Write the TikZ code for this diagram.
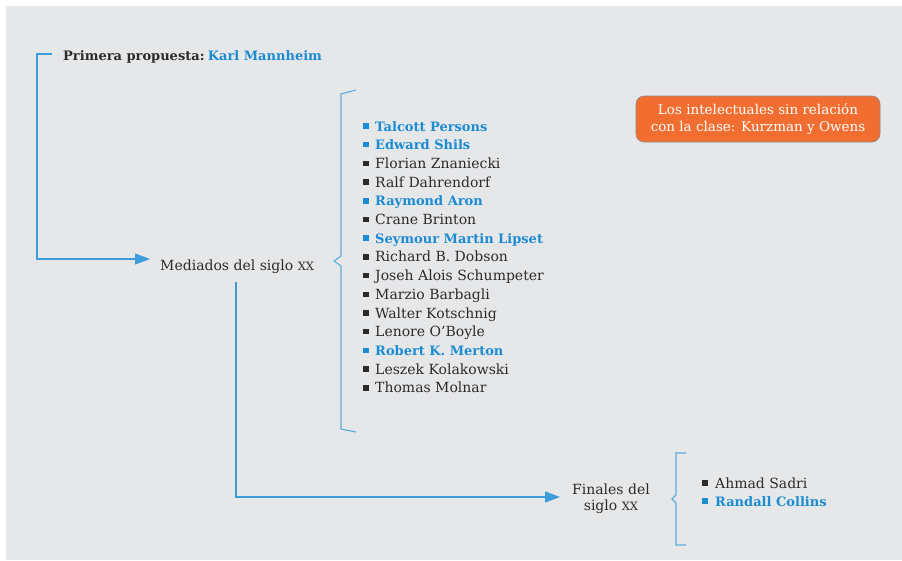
\documentclass[tikz,border=0pt]{standalone}
\usepackage{fontspec}
\setmainfont{DejaVu Serif}
\usetikzlibrary{arrows.meta}
\definecolor{bggray}{HTML}{E6E7E9}
\definecolor{linkblue}{HTML}{3D9DDB}
\definecolor{bracketblue}{HTML}{5AAEE0}
\definecolor{nameblue}{HTML}{1B8BD2}
\definecolor{ink}{HTML}{2B2B2B}
\definecolor{boxorange}{HTML}{F26E30}
\definecolor{boxedge}{HTML}{8C8C8C}
\newcommand{\smx}{{\fontsize{11.5}{12}\selectfont XX}}
\begin{document}
\begin{tikzpicture}[x=1pt,y=-1pt,
  txt/.style={inner sep=0pt, text=ink, font=\fontsize{14}{16}\selectfont},
  plainname/.style={txt, anchor=base west},
  keyname/.style={txt, anchor=base west, text=nameblue, font=\fontsize{13}{16}\selectfont\bfseries},
  link/.style={draw=linkblue, line width=1.3pt, -{Triangle[length=15pt,width=11pt]}},
  brace/.style={draw=bracketblue, line width=1.1pt, line join=miter},
  bulletsq/.style={inner sep=0pt, minimum size=5.5pt, fill=#1},
  notebox/.style={draw=boxedge, line width=0.6pt, fill=boxorange, rounded corners=8pt,
    text=white, align=center, minimum width=244pt, minimum height=46pt, inner sep=0pt,
    font=\fontsize{13.5}{17}\selectfont}]
  % page and grey panel
  \useasboundingbox (0,0) rectangle (902,560);
  \fill[bggray] (6,6) rectangle (902,560);

  % first stage
  \node[txt, anchor=base west, font=\fontsize{13}{16}\selectfont\bfseries] (first) at (63,60)
    {Primera propuesta:\hspace{0.25em}\textcolor{nameblue}{Karl Mannheim}};
  \coordinate (firststub) at (52,54);
  \coordinate (firstbend) at (37,54);

  % middle of the century
  \node[txt, anchor=base west] (mid) at (160,270) {Mediados del siglo \smx};
  \coordinate (midin) at (150,259);
  \coordinate (midout) at (236,282);
  \draw[link] (firststub) -- (firstbend) |- (midin);

  % end of the century
  \node[txt, align=center, anchor=center] (late) at (611,499) {Finales del\\siglo \smx};
  \coordinate (latein) at (560,497);
  \draw[link] (midout) |- (latein);

  % bracket for the mid-century list
  \coordinate (b1top) at (356,90);
  \coordinate (b1bot) at (356,432);
  \draw[brace] (b1top) -- (341,94) -- (341,256) -- (334,261) -- (341,266) -- (341,429) -- (b1bot);

  % mid-century names
  \foreach \n/\s [count=\i] in {
      Talcott Persons/keyname, Edward Shils/keyname, Florian Znaniecki/plainname,
      Ralf Dahrendorf/plainname, Raymond Aron/keyname, Crane Brinton/plainname,
      Seymour Martin Lipset/keyname, Richard B. Dobson/plainname,
      Joseh Alois Schumpeter/plainname, Marzio Barbagli/plainname,
      Walter Kotschnig/plainname, Lenore O’Boyle/plainname,
      Robert K. Merton/keyname, Leszek Kolakowski/plainname, Thomas Molnar/plainname} {
    \pgfmathsetmacro{\yb}{131+18.7*(\i-1)}
    \node[\s] (item\i) at (375,\yb) {\n};
  }
  \foreach \i in {3,4,6,8,9,10,11,12,14,15} {
    \pgfmathsetmacro{\yc}{126+18.7*(\i-1)}
    \node[bulletsq=ink] (dot\i) at (366,\yc) {};
  }
  \foreach \i in {1,2,5,7,13} {
    \pgfmathsetmacro{\yc}{126+18.7*(\i-1)}
    \node[bulletsq=nameblue] (dot\i) at (366,\yc) {};
  }

  % note box
  \node[notebox] (note) at (758,119) {Los intelectuales sin relación\\con la clase: Kurzman y Owens};

  % bracket for the late list
  \coordinate (b2top) at (686,453);
  \coordinate (b2bot) at (686,545);
  \draw[brace] (b2top) -- (676,453) -- (676,495) -- (672,499) -- (676,503) -- (676,545) -- (b2bot);

  % late names
  \node[plainname] (sadri) at (715,488) {Ahmad Sadri};
  \node[keyname] (collins) at (715,506) {Randall Collins};
  \node[bulletsq=ink] (dotsadri) at (705,483) {};
  \node[bulletsq=nameblue] (dotcollins) at (705,501) {};
\end{tikzpicture}
\end{document}
